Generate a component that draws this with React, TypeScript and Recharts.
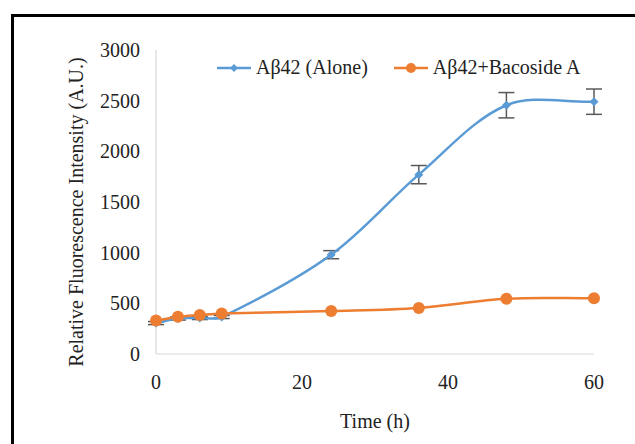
import { LineChart, Line, XAxis, YAxis, ErrorBar } from "recharts";

// sampling times (h)
const hours = [0, 3, 6, 9, 24, 36, 48, 60];
// Aβ42 alone, mean and SD
const aloneValues = [305, 350, 355, 365, 980, 1770, 2455, 2490];
const aloneErrors = [15, 15, 15, 15, 40, 90, 125, 125];
// Aβ42 + Bacoside A
const bacosideValues = [330, 368, 385, 400, 425, 455, 545, 550];

const xTicks = [0, 20, 40, 60];
const yTicks = [0, 500, 1000, 1500, 2000, 2500, 3000];

const BLUE = "#5B9BD5";
const ORANGE = "#ED7D31";
const FONT = "'Liberation Serif', 'Times New Roman', serif";
const FS = 20;

const data = hours.map((h, i) => ({
  hour: h,
  alone: aloneValues[i],
  aloneErr: aloneErrors[i],
  bacoside: bacosideValues[i],
}));

// Excel-like smoothed line: catmull-rom style beziers, tangents scaled by chord length
const smoothCurve = (context: any) => {
  let xs: number[] = [];
  let ys: number[] = [];
  const dist = (a: number, b: number) => Math.hypot(xs[b] - xs[a], ys[b] - ys[a]);
  return {
    areaStart() {},
    areaEnd() {},
    lineStart() {
      xs = [];
      ys = [];
    },
    point(x: number, y: number) {
      xs.push(+x);
      ys.push(+y);
    },
    lineEnd() {
      const n = xs.length;
      if (!n) return;
      context.moveTo(xs[0], ys[0]);
      for (let i = 0; i < n - 1; i++) {
        const i0 = Math.max(i - 1, 0);
        const i3 = Math.min(i + 2, n - 1);
        const d12 = dist(i, i + 1);
        const k1 = d12 / (3 * (dist(i0, i) + d12) || 1);
        const k2 = d12 / (3 * (d12 + dist(i + 1, i3)) || 1);
        const c1x = xs[i] + (xs[i + 1] - xs[i0]) * k1;
        const c1y = ys[i] + (ys[i + 1] - ys[i0]) * k1;
        const c2x = xs[i + 1] - (xs[i3] - xs[i]) * k2;
        const c2y = ys[i + 1] - (ys[i3] - ys[i]) * k2;
        context.bezierCurveTo(c1x, c1y, c2x, c2y, xs[i + 1], ys[i + 1]);
      }
    },
  };
};

const Diamond = (props: any) => {
  const { cx, cy, index } = props;
  if (cx == null || cy == null) return null;
  const s = 4.5;
  return (
    <polygon
      key={`d-${index}`}
      points={`${cx},${cy - s} ${cx + s},${cy} ${cx},${cy + s} ${cx - s},${cy}`}
      fill={BLUE}
    />
  );
};

const YLabel = (props: any) => {
  const { viewBox } = props;
  const x = viewBox.x + 10;
  const y = 212;
  return (
    <text
      x={x}
      y={y}
      transform={`rotate(-90, ${x}, ${y})`}
      textAnchor="middle"
      dominantBaseline="central"
      fontFamily={FONT}
      fontSize={FS}
      fill="#222"
    >
      Relative Fluorescence Intensity (A.U.)
    </text>
  );
};

const legendItems = [
  { label: "Aβ42 (Alone)", color: BLUE, shape: "diamond" },
  { label: "Aβ42+Bacoside A", color: ORANGE, shape: "circle" },
];

const renderLegend = () => (
  <div style={{ display: "flex", alignItems: "center", fontFamily: FONT, fontSize: FS, color: "#222" }}>
    {legendItems.map((it) => (
      <div key={it.label} style={{ display: "flex", alignItems: "center", marginRight: 26 }}>
        <svg width={34} height={12} style={{ marginRight: 5 }}>
          <line x1={0} y1={6} x2={34} y2={6} stroke={it.color} strokeWidth={2.5} />
          {it.shape === "diamond" ? (
            <polygon points="17,2 21,6 17,10 13,6" fill={it.color} />
          ) : (
            <circle cx={17} cy={6} r={5} fill={it.color} />
          )}
        </svg>
        <span>{it.label}</span>
      </div>
    ))}
  </div>
);

export default function App() {
  return (
    <div style={{ position: "absolute", left: 0, top: 0, width: 635, height: 444, background: "#fff", overflow: "hidden" }}>
      <div
        style={{
          position: "absolute",
          left: 11,
          top: 14,
          width: 700,
          height: 500,
          border: "3px solid #000",
        }}
      />
      <div style={{ position: "absolute", left: 0, top: 0 }}>
        <LineChart width={635} height={444} data={data} margin={{ top: 50, right: 41, left: 66, bottom: 60 }}>
          <XAxis
            dataKey="hour"
            type="number"
            domain={[0, 60]}
            ticks={xTicks}
            tickLine={false}
            tickSize={8}
            tickMargin={13}
            height={30}
            axisLine={{ stroke: "#D9D9D9", strokeWidth: 1.2 }}
            tick={{ fontSize: FS, fontFamily: FONT, fill: "#222" }}
            label={{ value: "Time (h)", position: "bottom", offset: 30, fontSize: FS, fontFamily: FONT, fill: "#222" }}
          />
          <YAxis
            type="number"
            domain={[0, 3000]}
            ticks={yTicks}
            tickLine={false}
            tickSize={8}
            tickMargin={8}
            width={90}
            axisLine={{ stroke: "#D9D9D9", strokeWidth: 1.2 }}
            tick={{ fontSize: FS, fontFamily: FONT, fill: "#222" }}
            label={<YLabel />}
          />
          <Line
            type={smoothCurve as any}
            dataKey="alone"
            stroke={BLUE}
            strokeWidth={2.5}
            dot={Diamond}
            activeDot={false}
            isAnimationActive={false}
          >
            <ErrorBar dataKey="aloneErr" direction="y" width={8} stroke="#595959" strokeWidth={1.5} />
          </Line>
          <Line
            type={smoothCurve as any}
            dataKey="bacoside"
            stroke={ORANGE}
            strokeWidth={2.5}
            dot={{ r: 6, fill: ORANGE, stroke: ORANGE, strokeWidth: 0 }}
            activeDot={false}
            isAnimationActive={false}
          />
        </LineChart>
      </div>
      <div style={{ position: "absolute", left: 217, top: 56 }}>{renderLegend()}</div>
    </div>
  );
}
